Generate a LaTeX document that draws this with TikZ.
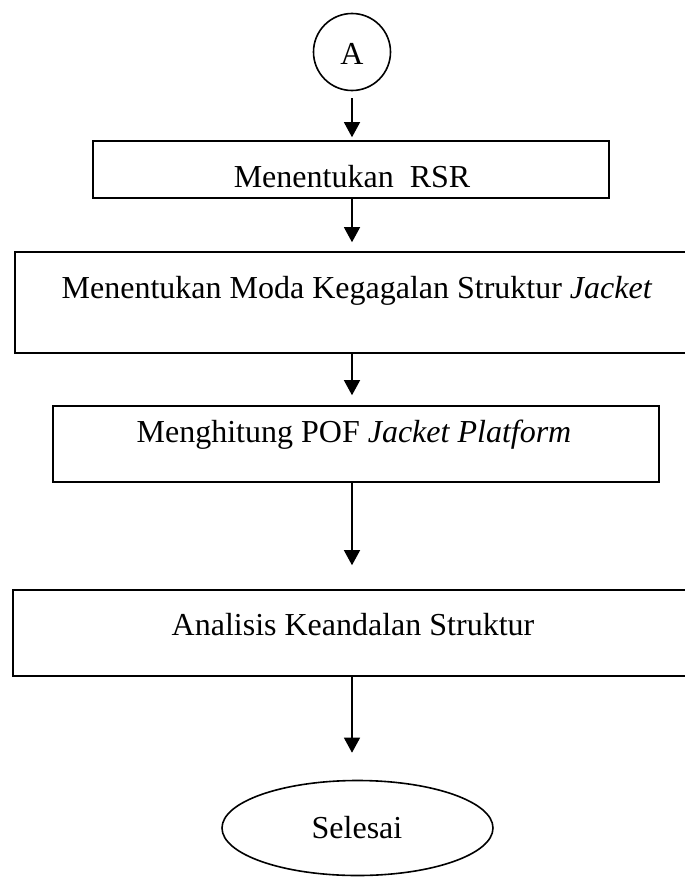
\documentclass[tikz,border=0pt]{standalone}
\usepackage{fontspec}
\setmainfont{Liberation Serif}
\usetikzlibrary{arrows.meta,shapes.geometric,calc}

\tikzset{
  boxshape/.style={draw, line width=1.6pt, rectangle, inner sep=0pt},
  label text/.style={anchor=base, inner sep=0pt, font=\fontsize{32}{38}\selectfont},
  flow/.style={draw, line width=1.3pt, -{Triangle[width=16pt,length=15pt]}},
}

\begin{document}
\begin{tikzpicture}[x=1pt, y=-1pt]
  \useasboundingbox (0,0) rectangle (685,878);

  % connector circle
  \node[draw, line width=1.6pt, circle, minimum size=77pt, inner sep=0pt] (A) at (352,52) {};
  \node[label text] (tA) at (352,64) {A};

  % process boxes
  \node[boxshape, minimum width=516pt, minimum height=57pt] (b1) at (351,169.5) {};
  \node[label text] (t1) at (352,187) {Menentukan\ \ RSR};

  \node[boxshape, minimum width=676pt, minimum height=101pt] (b2) at (353,302.5) {};
  \node[label text] (t2) at (357,298) {Menentukan Moda Kegagalan Struktur \textit{Jacket}};

  \node[boxshape, minimum width=606pt, minimum height=76pt] (b3) at (356,444) {};
  \node[label text] (t3) at (354,442) {Menghitung POF \textit{Jacket Platform}};

  \node[boxshape, minimum width=680pt, minimum height=86pt] (b4) at (353,633) {};
  \node[label text] (t4) at (353,635) {Analisis Keandalan Struktur};

  % terminator
  \node[draw, line width=1.6pt, ellipse, minimum width=271pt, minimum height=95pt, inner sep=0pt] (end) at (357.5,828) {};
  \node[label text] (tend) at (357,838) {Selesai};

  % flow arrows
  \draw[flow, shorten <=7pt, shorten >=3pt] (A.south) -- (A.south |- b1.north);
  \draw[flow, shorten >=9pt] (b1.south -| A) -- (A |- b2.north);
  \draw[flow, shorten >=10pt] (b2.south -| A) -- (A |- b3.north);
  \draw[flow, shorten >=24pt] (b3.south -| A) -- (A |- b4.north);
  \draw[flow, shorten >=27pt] (b4.south -| A) -- (A |- end.north);
\end{tikzpicture}
\end{document}
